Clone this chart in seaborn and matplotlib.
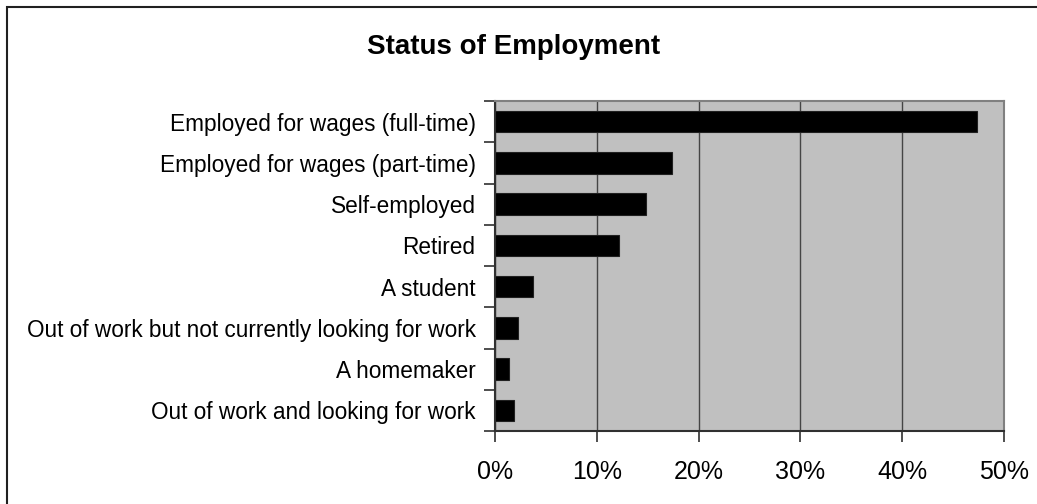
import numpy as np
import pandas as pd
import seaborn as sns
import matplotlib.pyplot as plt
from matplotlib.patches import Rectangle

# Dados (percentual)
categorias = ['Employed for wages (full-time)',
              'Employed for wages (part-time)',
              'Self-employed',
              'Retired',
              'A student',
              'Out of work but not currently looking for work',
              'A homemaker',
              'Out of work and looking for work']
valores = [47.3, 17.4, 14.8, 12.2, 3.7, 2.3, 1.4, 1.9]
xticks = [0, 10, 20, 30, 40, 50]

df = pd.DataFrame({'Status': categorias, 'Pct': valores})

sns.set_style('white')
plt.rcParams['font.family'] = ['Liberation Sans', 'DejaVu Sans']
plt.rcParams['text.color'] = 'black'
plt.rcParams['xtick.color'] = 'black'
plt.rcParams['ytick.color'] = 'black'

fig = plt.figure(figsize=(10.37, 5.04), dpi=100)
ax = fig.add_axes([495 / 1037, 1 - 431 / 504, (1004 - 495) / 1037, (431 - 101) / 504])

sns.barplot(data=df, x='Pct', y='Status', orient='h', color='black',
            width=0.52, edgecolor='#202020', linewidth=0.8, ax=ax)

ax.set_facecolor('#C0C0C0')
ax.set_xlim(0, 50)
ax.set_ylim(len(categorias) - 0.5, -0.5)
ax.set_xticks(xticks)
ax.set_xticklabels([f'{v}%' for v in xticks], fontsize=18)
ax.set_axisbelow(True)
ax.grid(axis='x', color='#454545', linewidth=1)
ax.set_xlabel('')
ax.set_ylabel('')

# marcas entre categorias (estilo Excel)
ax.set_yticks(range(len(categorias)))
ax.set_yticklabels(categorias, fontsize=16.3)
ax.set_yticks(np.arange(-0.5, len(categorias), 1), minor=True)
ax.tick_params(axis='y', which='major', length=0, pad=14, labelcolor='black')
ax.tick_params(axis='y', which='minor', length=8, width=1.2, color='#303030', left=True)
ax.tick_params(axis='x', which='major', length=8, width=1.2, color='#303030', bottom=True,
               pad=13, labelcolor='black')

for s in ['left', 'bottom']:
    ax.spines[s].set_color('#303030')
    ax.spines[s].set_linewidth(1.5)
for s in ['top', 'right']:
    ax.spines[s].set_color('#808080')
    ax.spines[s].set_linewidth(1.5)

fig.text(514 / 1037, 1 - 47 / 504, 'Status of Employment', ha='center', va='center',
         fontsize=20, fontweight='bold', color='black')

# borda do gráfico
fig.patches.append(Rectangle((7 / 1037, -0.1), 1.2, 1.1 - 7 / 504, transform=fig.transFigure,
                             fill=False, edgecolor='#202020', linewidth=1.5))

fig.savefig('out.png', dpi=100)
